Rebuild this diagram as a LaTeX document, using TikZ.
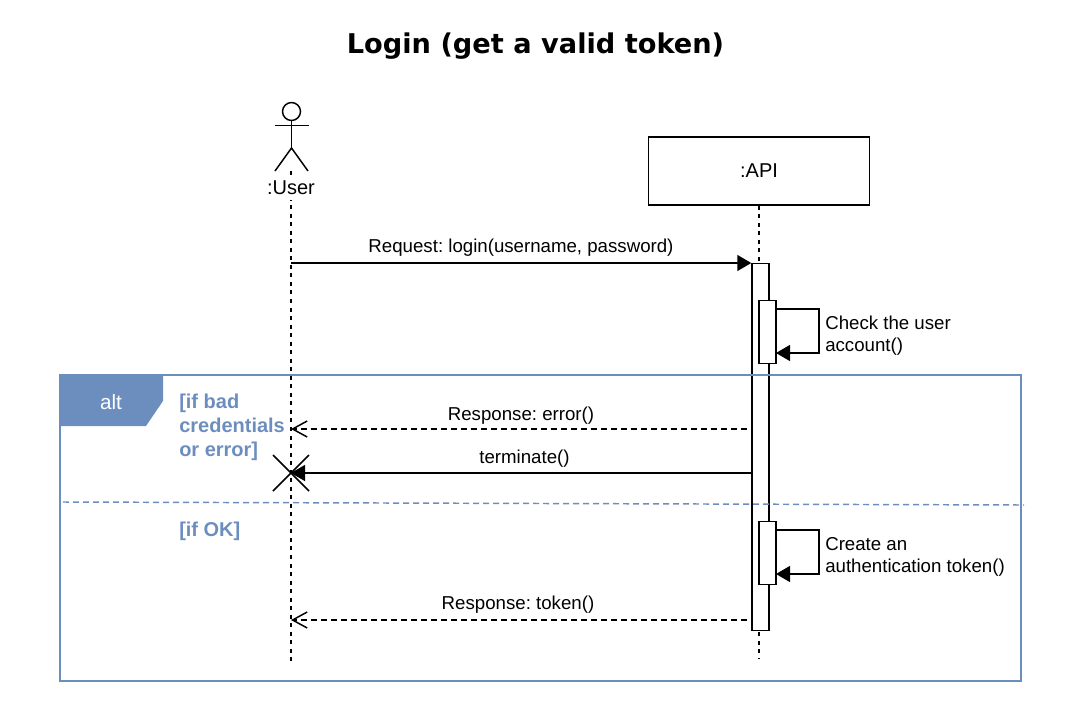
\documentclass[tikz,border=0pt]{standalone}
\usepackage{fontspec}
\setmainfont{Liberation Sans}
\newfontfamily\titlefont{DejaVu Sans}
\usetikzlibrary{arrows.meta}
\definecolor{altblue}{HTML}{6C8EBF}
\frenchspacing
\tikzset{
  x=.75pt, y=-.75pt,
  every node/.style={font=\fontsize{14}{16.5}\selectfont, inner sep=0pt},
  lifeline/.style={line width=1.1pt, dash pattern=on 3pt off 3.4pt},
  exec/.style={draw, fill=white, line width=1.1pt, minimum width=12.75pt, anchor=north},
  call/.style={-{Triangle[length=10.5pt,width=12pt]}, line width=1.1pt},
  reply/.style={-{Straight Barb[length=11pt,width=12pt]}, line width=1.1pt, dash pattern=on 4.5pt off 3pt},
  guard/.style={text=altblue, anchor=north west, align=left, font=\fontsize{15}{18}\selectfont\bfseries},
}
\begin{document}
\begin{tikzpicture}
  \useasboundingbox (0,0) rectangle (1071,714);
  \node (title) at (535.5,46.5) {\titlefont\fontsize{20.4}{24}\selectfont\bfseries Login (get a valid token)};

  % lifelines
  \coordinate (userfoot) at (291,171);
  \coordinate (userend) at (291,665);
  \coordinate (apiend) at (759,659);
  \node [draw, line width=1.1pt, minimum width=166pt, minimum height=51pt, font=\fontsize{15}{18}\selectfont] (api) at (759,171) {\raisebox{-.75pt}{:API}};
  \draw [lifeline] (userfoot) -- (userend);
  \draw [lifeline] (api.south) -- (apiend);

  % actor
  \node [draw, circle, line width=1.1pt, minimum size=13.5pt] (head) at (291.5,111.5) {};
  \coordinate (hip) at (291.5,148);
  \coordinate (arms) at (291.5,125.5);
  \draw [line width=1.1pt] (head.south) -- (hip);
  \draw [line width=1.1pt] (arms) ++(-17,0) -- ++(34,0);
  \draw [line width=1.1pt] (275,171) -- (hip) -- (308,171);
  \node [fill=white, minimum height=18pt, font=\fontsize{15}{18}\selectfont] (user) at (291,188) {:User};

  % execution boxes
  \node [exec, minimum height=275.25pt] (run) at (760.5,263) {};
  \foreach \y / \name / \a / \b in {300/check/Check the user/account(), 521/create/Create an/authentication token()} {
    \node [exec, minimum height=47.25pt] (\name) at (767.5,\y) {};
    \coordinate (\name out) at (776,\y+9);
    \coordinate (\name in) at (776,\y+53);
    \draw [call] (\name out) -- (819,\y+9) -- (819,\y+53) -- (\name in);
    \node [anchor=west, align=left] (\name text) at (825,\y+36) {\a\\\b};
  }

  % messages
  \coordinate (reqfrom) at (291,263);
  \coordinate (errfrom) at (747,429);
  \coordinate (errto) at (291,429);
  \coordinate (termfrom) at (751,473);
  \coordinate (termto) at (291,473);
  \coordinate (tokfrom) at (747,620);
  \coordinate (tokto) at (291,620);
  \draw [call] (reqfrom) -- (run.north west);
  \draw [reply] (errfrom) -- (errto);
  \draw [call] (termfrom) -- (termto);
  \draw [reply] (tokfrom) -- (tokto);
  \node (reqtext) at (521,248) {Request: login(username, password)};
  \node (errtext) at (521,416) {Response: error()};
  \node (termtext) at (524.5,459) {terminate()};
  \node (toktext) at (518,605) {Response: token()};
  \draw [line width=1.1pt] (termto) ++(-18,-18) -- ++(36,36);
  \draw [line width=1.1pt] (termto) ++(18,-18) -- ++(-36,36);

  % alt frame
  \draw [altblue, line width=1.1pt] (60,375) rectangle (1021,681);
  \fill [altblue] (60,375) -- (163,375) -- (163,401) -- (146,426) -- (60,426) -- cycle;
  \node [text=white, font=\fontsize{15.5}{18}\selectfont] (alt) at (111,402) {alt};
  \node [guard] (badguard) at (179,393.5) {[if bad\\credentials\\or error]};
  \draw [altblue, line width=1.1pt, dash pattern=on 4.5pt off 3pt] (63,502) -- (1024,505);
  \node [guard] (okguard) at (179,521.5) {[if OK]};
\end{tikzpicture}
\end{document}
